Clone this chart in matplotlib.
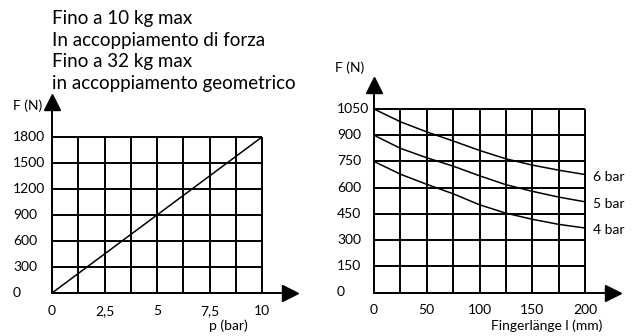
import matplotlib
matplotlib.use('Agg')
import matplotlib.pyplot as plt

plt.rcParams['font.family'] = ['Lato', 'DejaVu Sans']

# left chart: force vs pressure
p_bar = [0, 10]
force_p = [0, 1800]
p_grid = [0, 1.25, 2.5, 3.75, 5, 6.25, 7.5, 8.75, 10]
p_ticks = [0, 2.5, 5, 7.5, 10]
p_labels = ['0', '2,5', '5', '7,5', '10']
fp_ticks = [0, 300, 600, 900, 1200, 1500, 1800]

# right chart: force vs finger length
length_mm = [0, 25, 50, 75, 100, 125, 150, 175, 200]
force_6bar = [1050, 977, 919, 867, 813, 765, 729, 700, 675]
force_5bar = [900, 825, 771, 723, 668, 617, 579, 546, 519]
force_4bar = [750, 677, 619, 565, 502, 454, 419, 390, 369]
curve_labels = ['6 bar', '5 bar', '4 bar']
l_grid = [0, 25, 50, 75, 100, 125, 150, 175, 200]
l_ticks = [0, 50, 100, 150, 200]
fl_ticks = [0, 150, 300, 450, 600, 750, 900, 1050]

title_lines = ['Fino a 10 kg max', 'In accoppiamento di forza',
               'Fino a 32 kg max', 'in accoppiamento geometrico']

W, H = 634, 336
fig = plt.figure(figsize=(W / 100, H / 100), dpi=100)
TS = 10  # tick label size


def px_axes(x0, y0, x1, y1):
    return fig.add_axes([x0 / W, 1 - y1 / H, (x1 - x0) / W, (y1 - y0) / H])


def grid_box(ax, xg, yg, xmax, ymax, xarrow, yarrow):
    ax.set_xlim(0, xmax)
    ax.set_ylim(0, ymax)
    ax.axis('off')
    ax.vlines(xg, 0, ymax, color='black', lw=1.4, clip_on=False)
    ax.hlines(yg, 0, xmax, color='black', lw=1.4, clip_on=False)
    # axis arrows
    ax.plot([0, xarrow], [0, 0], color='black', lw=1.4, clip_on=False)
    ax.plot([0, 0], [0, yarrow], color='black', lw=1.4, clip_on=False)
    ax.plot([xarrow], [0], marker='>', ms=11, color='black', clip_on=False)
    ax.plot([0], [yarrow], marker='^', ms=11, color='black', clip_on=False)


ax1 = px_axes(52, 137, 262, 293)
grid_box(ax1, p_grid, fp_ticks, 10, 1800, 11.35, 2200)
ax1.plot(p_bar, force_p, color='black', lw=1.1)
for v in fp_ticks:
    ax1.text(-0.186, v, str(v), transform=ax1.get_yaxis_transform(),
             ha='left', va='center', fontsize=TS)
for v, s in zip(p_ticks, p_labels):
    ax1.text(v, -0.115, s, transform=ax1.get_xaxis_transform(),
             ha='center', va='center', fontsize=TS)
ax1.text(8.38, -0.21, 'p (bar)', transform=ax1.get_xaxis_transform(),
         ha='center', va='center', fontsize=TS)
fig.text(13 / W, 1 - 106 / H, 'F (N)', ha='left', va='center', fontsize=TS)
for i, line in enumerate(title_lines):
    fig.text(52 / W, 1 - (18.5 + 21.7 * i) / H, line,
             ha='left', va='center', fontsize=13.5)

ax2 = px_axes(374, 109, 585, 292.5)
grid_box(ax2, l_grid, fl_ticks, 200, 1050, 227, 1190)
for ys, lab in zip([force_6bar, force_5bar, force_4bar], curve_labels):
    ax2.plot(length_mm, ys, color='black', lw=1.1)
    ax2.annotate(lab, (length_mm[-1], ys[-1]), xytext=(8, -2),
                 textcoords='offset pixels', ha='left', va='center', fontsize=TS)
for v in fl_ticks:
    ax2.text(-0.175, v, str(v), transform=ax2.get_yaxis_transform(),
             ha='left', va='center', fontsize=TS)
for v in l_ticks:
    ax2.text(v, -0.095, str(v), transform=ax2.get_xaxis_transform(),
             ha='center', va='center', fontsize=TS)
ax2.text(164, -0.18, 'Fingerlänge l (mm)', transform=ax2.get_xaxis_transform(),
         ha='center', va='center', fontsize=TS)
fig.text(335 / W, 1 - 68 / H, 'F (N)', ha='left', va='center', fontsize=TS)

fig.savefig('out.png', dpi=100)
